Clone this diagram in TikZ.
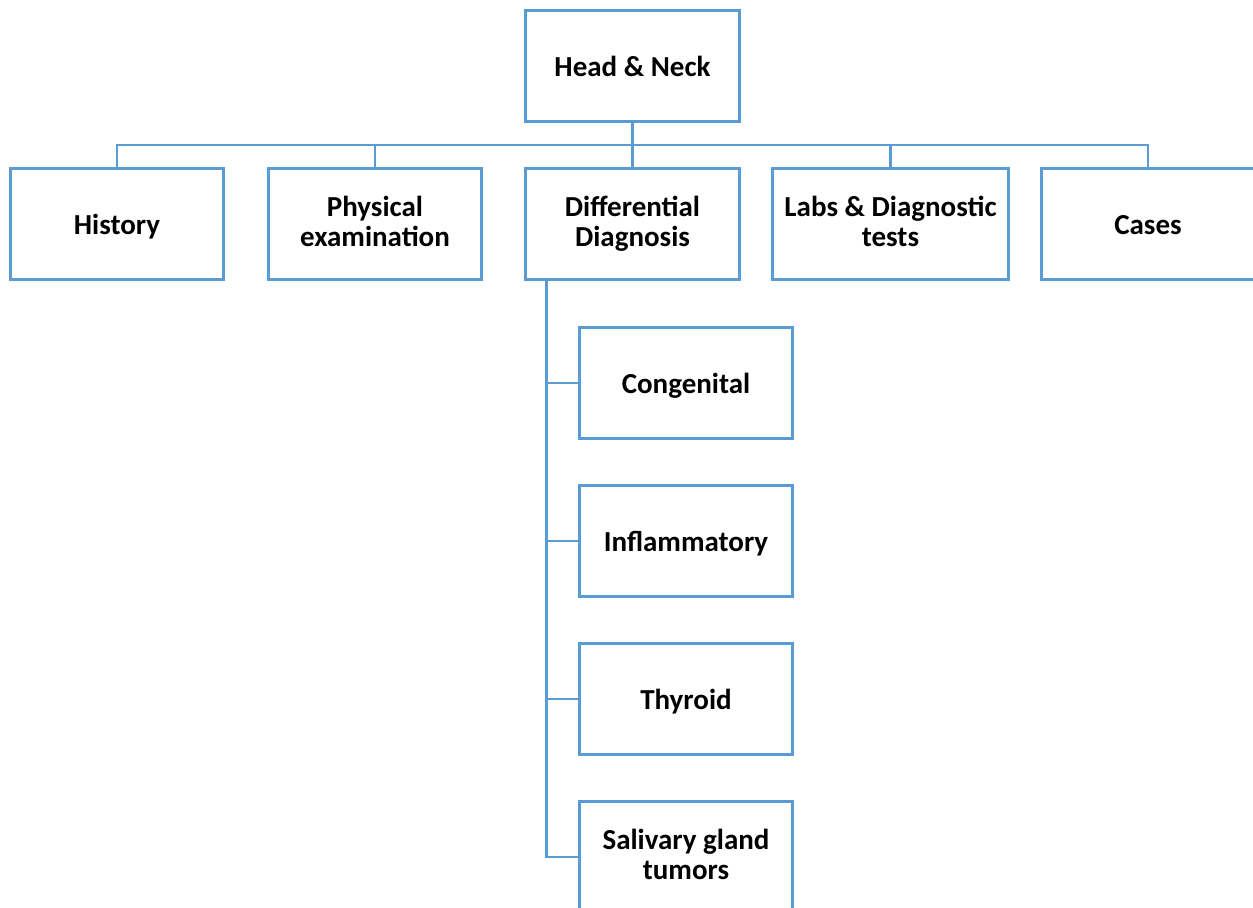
\documentclass[tikz,border=0pt]{standalone}
\usepackage{fontspec}
\setmainfont{Carlito}
\definecolor{boxblue}{HTML}{5B9BD5}
\newcommand{\myst}{\rule[-3pt]{0pt}{18pt}}
\begin{document}
\begin{tikzpicture}[x=0.6pt,y=-0.6pt,
  box/.style={draw=boxblue,line width=1.7pt,fill=white,minimum width=128pt,minimum height=67pt,
    align=center,inner sep=0pt,font=\fontsize{17.4}{17.8}\selectfont\bfseries,text=black,
    execute at begin node={\myst},execute at end node={\myst}},
  link/.style={draw=boxblue,line width=1.7pt}]
\useasboundingbox (0,0) rectangle (1253,908);
\clip (0,0) rectangle (1253,908);
\node[box] (head) at (632.5,66) {Head \& Neck};
\node[box] (hist) at (117,224) {History};
\node[box] (phys) at (375,224) {Physical\\examination};
\node[box] (diff) at (632.5,224) {Differential\\Diagnosis};
\node[box,minimum width=142pt] (labs) at (890.5,224) {Labs \& Diagnostic\\tests};
\node[box] (cases) at (1148,224) {Cases};
\node[box] (cong) at (686,383) {Congenital};
\node[box] (infl) at (686,541) {Inflammatory};
\node[box] (thyr) at (686,699) {Thyroid};
\node[box] (saliv) at (686,857) {Salivary gland\\tumors};
\coordinate (bar) at (632.5,145);
\draw[link] (head.south) -- (bar);
\foreach \n in {hist,phys,diff,labs,cases}{
  \draw[link] (bar) -| (\n.north);
}
\coordinate (trunk) at ([xshift=13.2pt]diff.south west);
\foreach \n in {cong,infl,thyr,saliv}{
  \draw[link] (trunk) |- (\n.west);
}
\end{tikzpicture}
\end{document}
